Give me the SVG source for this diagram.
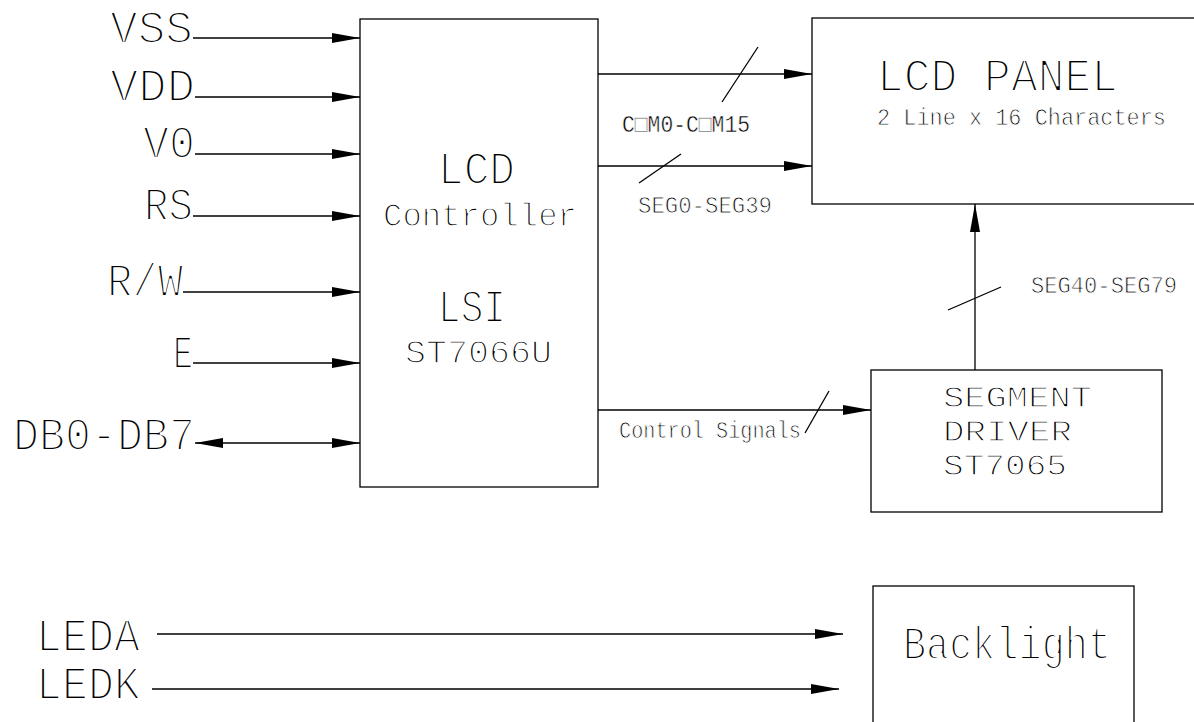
<svg xmlns="http://www.w3.org/2000/svg" width="1194" height="722" viewBox="0 0 1194 722">
<style>
.box{fill:none;stroke:#000;stroke-width:1.3}
.ln{fill:none;stroke:#000;stroke-width:1.3}
.ar{marker-end:url(#ah)}
.t{font-family:"Liberation Mono","DejaVu Sans Mono",monospace;fill:#000;font-weight:normal;stroke:#fff;paint-order:fill}
.big{font-size:46px;stroke-width:2.2}
.mid{font-size:34px;stroke-width:1.6}
.drv{font-size:29.5px;stroke-width:1.3}
.sm{font-size:24px;stroke-width:0.9}
.com{stroke-width:0.5}
</style>
<defs>
<marker id="ah" markerUnits="userSpaceOnUse" markerWidth="28" markerHeight="10" refX="28" refY="5" orient="auto-start-reverse">
<path d="M0,0 L28,5 L0,10 z" fill="#000"/>
</marker>
</defs>
<rect width="1194" height="722" fill="#fff"/>

<g id="controller">
<rect class="box" x="360" y="19" width="238" height="468"/>
<text class="t big" x="438" y="184" textLength="77" lengthAdjust="spacingAndGlyphs">LCD</text>
<text class="t mid" x="383" y="226" textLength="194" lengthAdjust="spacingAndGlyphs">Controller</text>
<text class="t big" x="438" y="322" textLength="68" lengthAdjust="spacingAndGlyphs">LSI</text>
<text class="t mid" x="405" y="363" textLength="147" lengthAdjust="spacingAndGlyphs">ST7066U</text>
</g>

<g id="lcd-panel">
<rect class="box" x="812" y="18" width="400" height="186"/>
<text class="t big" x="877" y="91" textLength="241" lengthAdjust="spacingAndGlyphs">LCD PANEL</text>
<text class="t sm" x="877" y="125" textLength="289" lengthAdjust="spacingAndGlyphs">2 Line x 16 Characters</text>
</g>

<g id="segment-driver">
<rect class="box" x="871" y="370" width="291" height="142"/>
<text class="t drv" x="943" y="407" textLength="149" lengthAdjust="spacingAndGlyphs">SEGMENT</text>
<text class="t drv" x="943" y="441" textLength="129" lengthAdjust="spacingAndGlyphs">DRIVER</text>
<text class="t drv" x="943" y="475" textLength="124" lengthAdjust="spacingAndGlyphs">ST7065</text>
</g>

<g id="backlight">
<rect class="box" x="873" y="586" width="261" height="150"/>
<text class="t big" x="903" y="659" textLength="208" lengthAdjust="spacingAndGlyphs">Backlight</text>
</g>

<g id="input-labels">
<text class="t big" x="110" y="43" textLength="83" lengthAdjust="spacingAndGlyphs">VSS</text>
<text class="t big" x="110" y="101" textLength="85" lengthAdjust="spacingAndGlyphs">VDD</text>
<text class="t big" x="143" y="158" textLength="52" lengthAdjust="spacingAndGlyphs">V0</text>
<text class="t big" x="144" y="220" textLength="49" lengthAdjust="spacingAndGlyphs">RS</text>
<text class="t big" x="107" y="296" textLength="76" lengthAdjust="spacingAndGlyphs">R/W</text>
<text class="t big" x="173" y="368" textLength="20" lengthAdjust="spacingAndGlyphs">E</text>
<text class="t big" x="13" y="450" textLength="182" lengthAdjust="spacingAndGlyphs">DB0-DB7</text>
<text class="t big" x="36" y="651" textLength="104" lengthAdjust="spacingAndGlyphs">LEDA</text>
<text class="t big" x="36" y="699" textLength="104" lengthAdjust="spacingAndGlyphs">LEDK</text>
</g>

<g id="connectors">
<line class="ln ar" x1="193" y1="38" x2="360" y2="38"/>
<line class="ln ar" x1="195" y1="97" x2="360" y2="97"/>
<line class="ln ar" x1="195" y1="154" x2="360" y2="154"/>
<line class="ln ar" x1="193" y1="216" x2="360" y2="216"/>
<line class="ln ar" x1="183" y1="292" x2="360" y2="292"/>
<line class="ln ar" x1="193" y1="363" x2="360" y2="363"/>
<line class="ln ar" x1="195" y1="443" x2="360" y2="443" marker-start="url(#ah)"/>

<line class="ln ar" x1="598" y1="74" x2="812" y2="74"/>
<line class="ln" x1="758" y1="47" x2="722" y2="102"/>
<text class="t sm com" x="622" y="132" textLength="128" lengthAdjust="spacingAndGlyphs">C□M0-C□M15</text>

<line class="ln ar" x1="598" y1="166" x2="812" y2="166"/>
<line class="ln" x1="681" y1="154" x2="639" y2="183"/>
<text class="t sm" x="638" y="213" textLength="134" lengthAdjust="spacingAndGlyphs">SEG0-SEG39</text>

<line class="ln ar" x1="598" y1="410" x2="871" y2="410"/>
<line class="ln" x1="829" y1="391" x2="805" y2="433"/>
<text class="t sm" x="619" y="438" textLength="182" lengthAdjust="spacingAndGlyphs">Control Signals</text>

<line class="ln ar" x1="975" y1="370" x2="975" y2="204"/>
<line class="ln" x1="948" y1="310" x2="1001" y2="287"/>
<text class="t sm" x="1031" y="293" textLength="146" lengthAdjust="spacingAndGlyphs">SEG40-SEG79</text>

<line class="ln ar" x1="157" y1="634" x2="843" y2="634"/>
<line class="ln ar" x1="152" y1="689" x2="839" y2="689"/>
</g>
</svg>
